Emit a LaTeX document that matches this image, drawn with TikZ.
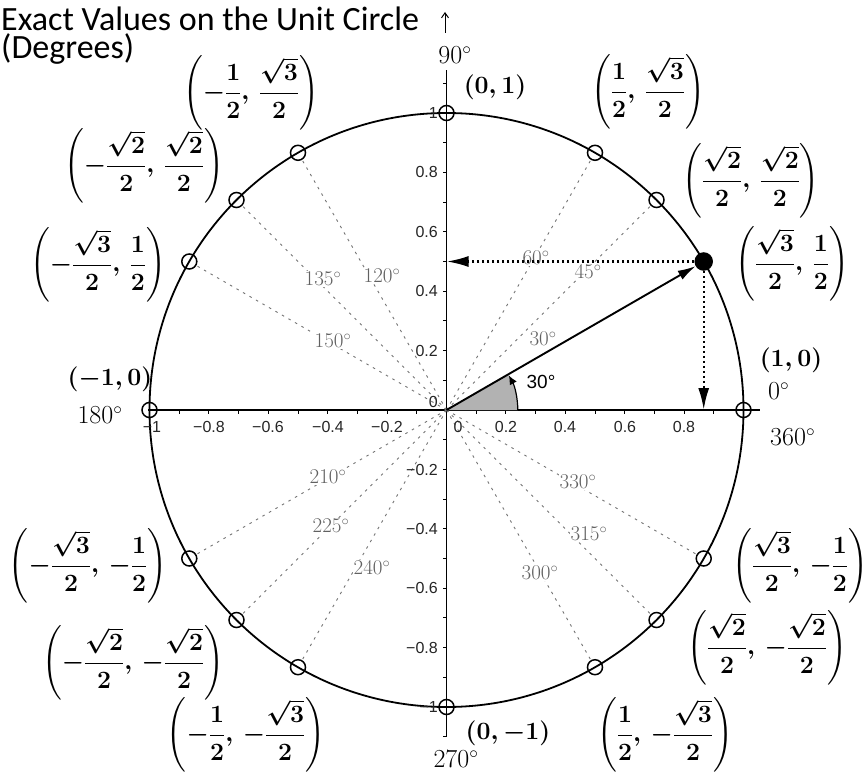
\documentclass[tikz,border=0pt]{standalone}
\usepackage{fontspec}
\usepackage{amsmath}
\newfontfamily\titlefont{Carlito}
\newfontfamily\tickfont{Liberation Sans}
\usetikzlibrary{arrows.meta}
\newcommand{\cpair}[2]{$\displaystyle\left(#1,\,#2\right)$}
\begin{document}
\begin{tikzpicture}[x=1pt,y=-1pt,
  titlestyle/.style={font=\titlefont\fontsize{34}{37}\selectfont, inner sep=0pt, anchor=base west},
  coordlab/.style={font=\fontsize{23}{26}\selectfont\boldmath, inner sep=0pt},
  fraclab/.style={font=\fontsize{26.5}{30}\selectfont\boldmath, inner sep=0pt},
  deglab/.style={text=black!62, font=\fontsize{21}{23}\selectfont, inner sep=1pt, fill=white},
  biglab/.style={font=\fontsize{26}{29}\selectfont, inner sep=0pt},
  ptmark/.style={circle, draw, line width=1.5pt, minimum size=15pt, inner sep=0pt},
  ray/.style={black!55, line width=0.9pt, dash pattern=on 2.5pt off 5pt},
  ticklab/.style={font=\tickfont\fontsize{16}{17}\selectfont, inner sep=0pt, text=black!85},
  dotarrow/.style={line width=2.4pt, dash pattern=on 2.5pt off 2.5pt, -{Latex[length=22pt,width=11pt]}}
]
\useasboundingbox (0,0) rectangle (868,773);
\fill[white] (0,0) rectangle (868,773);

% title
\node[titlestyle, text depth=0pt] (t1) at (1,31) {Exact Values on the Unit Circle};
\node[titlestyle, text height=20pt] (t2) at (1,59) {(Degrees)};
\coordinate (ua) at (445,33);
\coordinate (ub) at (445,12);
\draw[line width=1pt, -{Straight Barb[length=5pt,width=7pt]}] (ua) -- (ub);

\begin{scope}[shift={(446.5,410)}, x=297pt, y=297pt]
  \coordinate (O) at (0,0);
  % axes
  \coordinate (xl) at (-1.005,0);
  \coordinate (xr) at (1.055,0);
  \coordinate (yb) at (0,-1.1);
  \coordinate (yt) at (0,1.145);
  \draw[line width=1.2pt] (xl) -- (xr);
  \draw[line width=1.2pt] (yb) -- (yt);
  \foreach \t in {-10,...,10} \draw[line width=0.9pt] (\t/10,0) -- ++(0,-4pt);
  \foreach \t in {-11,...,11} \draw[line width=0.9pt] (0,\t/10) -- ++(-4pt,0);
  % circle
  \draw[line width=1.8pt] (O) circle (1);
  % sector
  \fill[gray!60] (O) -- (0.24,0) arc[start angle=0, end angle=30, radius=0.24] -- cycle;
  \draw[line width=1.2pt, -{Latex[length=9pt,width=8pt]}] (0.24,0) arc[start angle=0, end angle=29, radius=0.24];
  % markers
  \foreach \a in {0,45,60,90,120,135,150,180,210,225,240,270,300,315,330}
    \node[ptmark] (P\a) at (\a:1) {};
  \node[ptmark, fill=black, minimum size=17pt] (P30) at (30:1) {};
  % rays
  \foreach \a in {45,60,120,135,150,210,225,240,300,315,330}
    \draw[ray] (O) -- (P\a);
\end{scope}

% gray angle labels
\node[deglab] (d60) at (536,258) {60$^\circ$};
\node[deglab] (d45) at (588,272) {45$^\circ$};
\node[deglab] (d30) at (543,339) {30$^\circ$};
\node[deglab] (d135) at (323,279) {135$^\circ$};
\node[deglab] (d120) at (382,276) {120$^\circ$};
\node[deglab] (d150) at (333,341) {150$^\circ$};
\node[deglab] (d210) at (328,477) {210$^\circ$};
\node[deglab] (d225) at (331,526) {225$^\circ$};
\node[deglab] (d240) at (372,568) {240$^\circ$};
\node[deglab] (d330) at (578,482) {330$^\circ$};
\node[deglab] (d315) at (589,534) {315$^\circ$};
\node[deglab] (d300) at (540,573) {300$^\circ$};

% main arrows
\begin{scope}[shift={(446.5,410)}, x=297pt, y=297pt]
  \coordinate (Y5) at (0,0.5);
  \coordinate (X8) at ({sqrt(3)/2},0);
  \draw[line width=1.9pt, -{Latex[length=18pt,width=10pt]}] (O) -- (P30);
  \draw[dotarrow] (P30) -- (Y5);
  \draw[dotarrow] (P30) -- (X8);
\end{scope}
\node[font=\tickfont\fontsize{19}{21}\selectfont, inner sep=0pt] (a30) at (541,382) {30°};

% tick labels
\foreach \v/\px in {−0.8/209,−0.6/268,−0.4/328,−0.2/387,0.2/506,0.4/565,0.6/625,0.8/684}
  \node[ticklab] (xt\px) at (\px,427) {\v};
\node[ticklab] (xt0) at (458,427) {0};
\node[ticklab] (xtm1) at (152,427) {−1};
\foreach \v/\py in {1/113,0.8/172,0.6/232,0.4/291,0.2/351,−0.2/470,−0.4/529,−0.6/588,−0.8/648,−1/707}
  \node[ticklab, anchor=east] (yt\py) at (438,\py) {\v};
\node[ticklab, anchor=east] (yt0) at (438,402) {0};

% coordinate labels
\node[coordlab] (L90) at (495,87) {$(0,1)$};
\node[fraclab] (L60) at (648,92) {\cpair{\frac{1}{2}}{\frac{\sqrt{3}}{2}}};
\node[fraclab] (L45) at (751,181) {\cpair{\frac{\sqrt{2}}{2}}{\frac{\sqrt{2}}{2}}};
\node[fraclab] (L30) at (792,264) {\cpair{\frac{\sqrt{3}}{2}}{\frac{1}{2}}};
\node[coordlab] (L0) at (791,360) {$(1,0)$};
\node[fraclab] (L120) at (251,93) {\cpair{-\frac{1}{2}}{\frac{\sqrt{3}}{2}}};
\node[fraclab] (L135) at (144,166) {\cpair{-\frac{\sqrt{2}}{2}}{\frac{\sqrt{2}}{2}}};
\node[fraclab] (L150) at (98,265) {\cpair{-\frac{\sqrt{3}}{2}}{\frac{1}{2}}};
\node[coordlab] (L180) at (110,379) {$(-1,0)$};
\node[fraclab] (L210) at (88,566) {\cpair{-\frac{\sqrt{3}}{2}}{-\frac{1}{2}}};
\node[fraclab] (L225) at (133,663) {\cpair{-\frac{\sqrt{2}}{2}}{-\frac{\sqrt{2}}{2}}};
\node[fraclab] (L240) at (246,735) {\cpair{-\frac{1}{2}}{-\frac{\sqrt{3}}{2}}};
\node[coordlab] (L270) at (508,733) {$(0,-1)$};
\node[fraclab] (L300) at (665,735) {\cpair{\frac{1}{2}}{-\frac{\sqrt{3}}{2}}};
\node[fraclab] (L315) at (767,648) {\cpair{\frac{\sqrt{2}}{2}}{-\frac{\sqrt{2}}{2}}};
\node[fraclab] (L330) at (800,566) {\cpair{\frac{\sqrt{3}}{2}}{-\frac{1}{2}}};

% black angle labels
\node[biglab, fill=white, inner sep=1pt] (g90) at (455,55) {90$^\circ$};
\node[biglab] (g180) at (100,415) {180$^\circ$};
\node[biglab, anchor=west] (g0) at (768,391) {0$^\circ$};
\node[biglab, anchor=west] (g360) at (770,437) {360$^\circ$};
\node[biglab] (g270) at (456,759) {270$^\circ$};
\end{tikzpicture}
\end{document}
